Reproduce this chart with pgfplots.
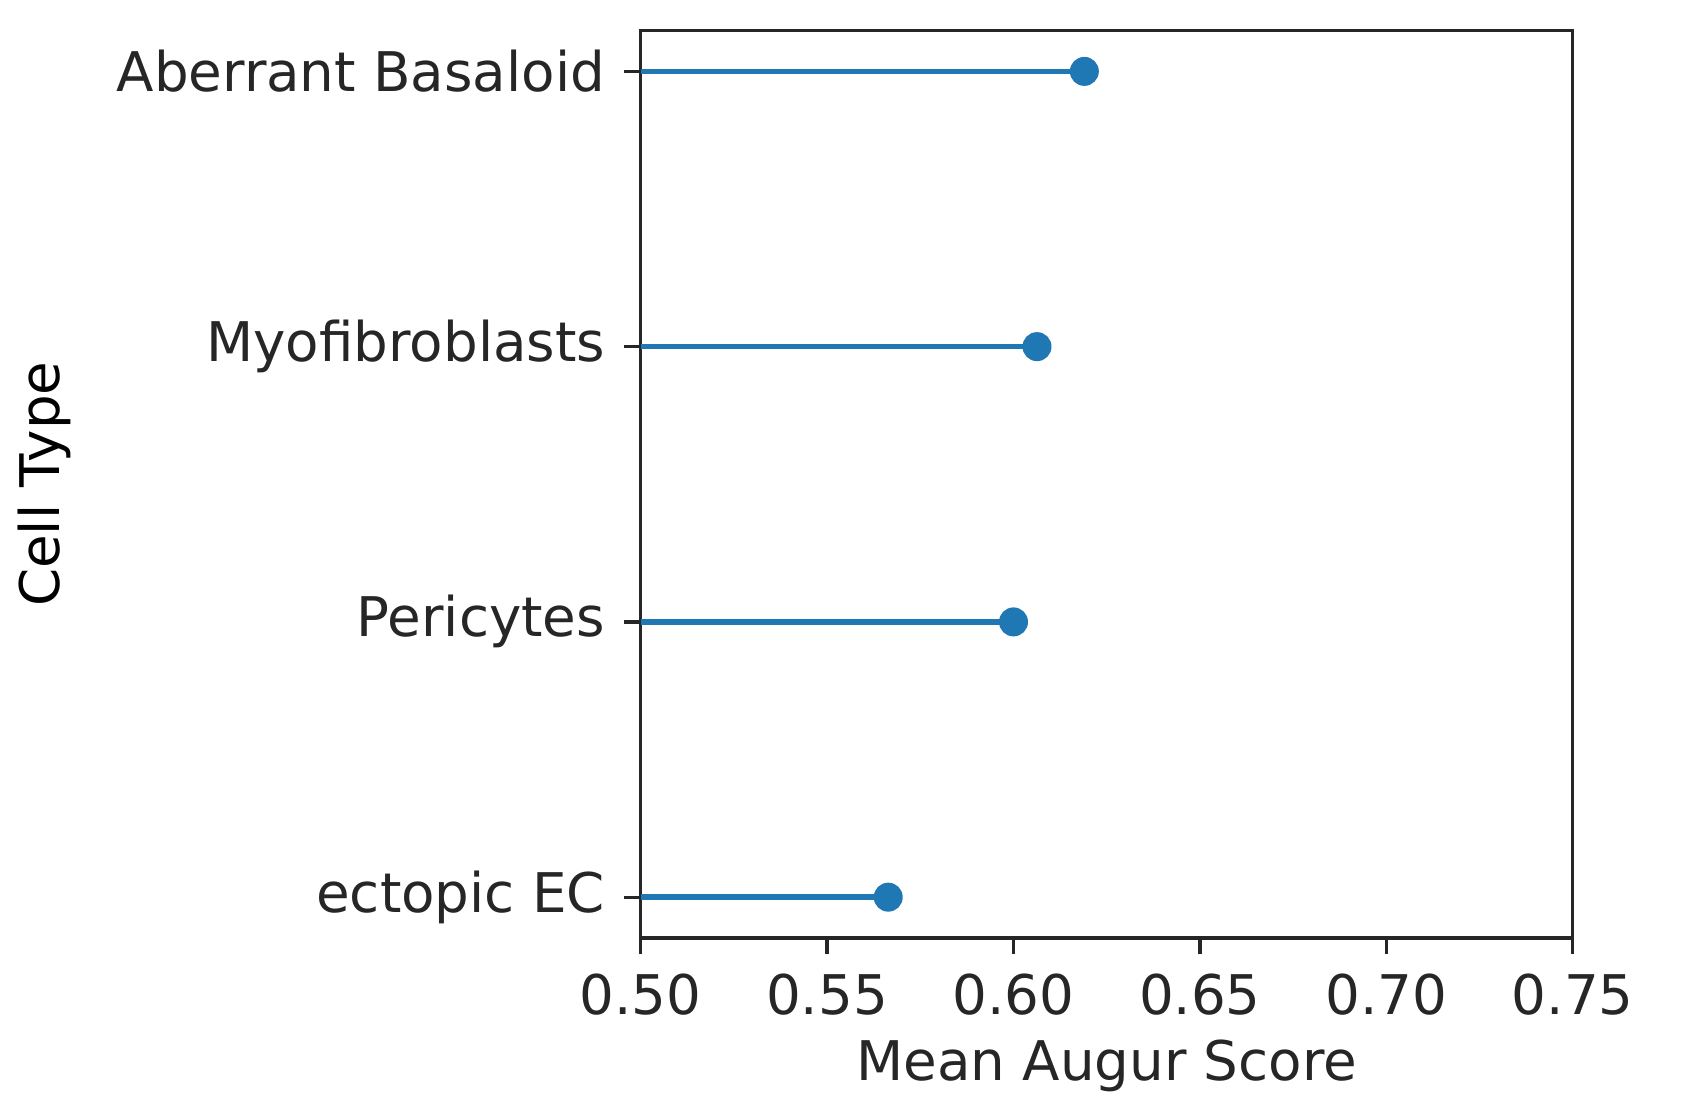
\documentclass[border=0pt]{standalone}
\usepackage{fontspec}
\setmainfont{DejaVu Sans}
\usepackage{pgfplots}
\pgfplotsset{compat=1.18}
\definecolor{c1}{HTML}{1F77B4}
\definecolor{tx}{HTML}{262626}
\begin{document}
\fontsize{13.2}{16}\selectfont
\begin{tikzpicture}
\begin{axis}[scale only axis, width=225pt, height=219pt,
 xmin=0.5, xmax=0.75, ymin=-0.148, ymax=3.148,
 xtick={0.5,0.55,...,0.75},
 xticklabel style={/pgf/number format/.cd,fixed,fixed zerofill,precision=2},
 /pgf/number format/assume math mode=true,
 ytick={0,1,2,3}, yticklabels={ectopic EC,Pericytes,Myofibroblasts,Aberrant Basaloid},
 tick align=outside, xtick pos=bottom, ytick pos=left,
 major tick length=4pt, tick style={tx, line width=0.8pt},
 axis line style={tx, line width=0.8pt},
 ticklabel style={font=\fontsize{13.2}{16}\selectfont, text=tx},
 label style={font=\fontsize{13.2}{16}\selectfont, text=tx},
 xlabel={Mean Augur Score}, ylabel={Cell Type},
 xlabel style={yshift=3pt},
 every axis y label/.style={at={(ticklabel cs:0.5)}, rotate=90, anchor=south, yshift=2pt},
 clip=false]
\addplot[c1, line width=1.3pt, forget plot] coordinates {(0.5,3) (0.619,3)};
\addplot[c1, line width=1.3pt, forget plot] coordinates {(0.5,2) (0.6063,2)};
\addplot[c1, line width=1.3pt, forget plot] coordinates {(0.5,1) (0.600,1)};
\addplot[c1, line width=1.3pt, forget plot] coordinates {(0.5,0) (0.5664,0)};
\addplot[only marks, mark=*, mark size=3.3pt, c1, mark options={fill=c1, draw=c1}]
 coordinates {(0.619,3) (0.6063,2) (0.600,1) (0.5664,0)};
\end{axis}
\path (current bounding box.north east) ++(8pt,7pt) coordinate (ne);
\path[use as bounding box] (current bounding box.south west) rectangle (ne);
\end{tikzpicture}
\end{document}
